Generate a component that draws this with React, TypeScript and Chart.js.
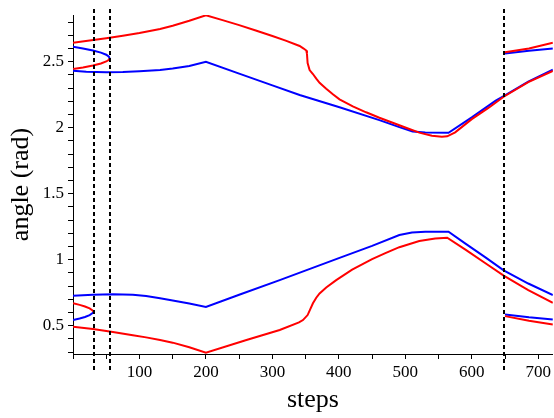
import React, { useEffect, useRef } from "react";
import { Chart, registerables } from "chart.js";

Chart.register(...registerables);

// ---- data (steps, angle in rad) ----
const upperRedX = [0, 25, 50, 75, 100, 131, 150, 175, 200, 225, 250, 275, 300, 320, 341, 347, 351, 352, 353, 356, 361, 366, 371, 381, 391, 401, 421, 441, 461, 481, 501, 521, 540, 555, 563, 575, 600, 625, 648, 685, 722];
const upperRedY = [2.644, 2.66, 2.678, 2.697, 2.718, 2.748, 2.772, 2.81, 2.852, 2.815, 2.777, 2.737, 2.695, 2.66, 2.619, 2.6, 2.585, 2.56, 2.49, 2.437, 2.407, 2.372, 2.34, 2.296, 2.254, 2.215, 2.162, 2.117, 2.076, 2.038, 2.0, 1.963, 1.94, 1.932, 1.935, 1.965, 2.065, 2.15, 2.235, 2.345, 2.43];

const upperBlueX = [0, 20, 50, 75, 100, 131, 150, 175, 200, 250, 300, 341, 401, 461, 491, 511, 530, 565, 600, 636, 648, 685, 722];
const upperBlueY = [2.432, 2.424, 2.421, 2.423, 2.428, 2.437, 2.448, 2.468, 2.5, 2.41, 2.321, 2.248, 2.155, 2.058, 2.005, 1.972, 1.963, 1.962, 2.078, 2.205, 2.24, 2.35, 2.44];

const lowerRedX = [0, 30, 60, 90, 110, 131, 150, 175, 200, 261, 311, 340, 346, 353, 361, 366, 371, 381, 396, 420, 450, 470, 491, 521, 545, 563, 591, 620, 648, 685, 722];
const lowerRedY = [0.493, 0.475, 0.453, 0.428, 0.412, 0.392, 0.372, 0.337, 0.295, 0.392, 0.468, 0.525, 0.543, 0.581, 0.67, 0.712, 0.745, 0.79, 0.846, 0.925, 1.005, 1.05, 1.095, 1.142, 1.161, 1.167, 1.075, 0.975, 0.88, 0.77, 0.674];

const lowerBlueX = [0, 30, 60, 90, 110, 131, 150, 175, 200, 250, 311, 400, 450, 491, 510, 530, 565, 591, 620, 648, 685, 722];
const lowerBlueY = [0.728, 0.735, 0.738, 0.735, 0.725, 0.708, 0.692, 0.668, 0.642, 0.735, 0.846, 1.012, 1.105, 1.187, 1.207, 1.212, 1.212, 1.12, 1.02, 0.92, 0.82, 0.733];

const upperFoldBlueX = [0, 15, 30, 42, 50, 54, 55];
const upperFoldBlueY = [2.614, 2.601, 2.585, 2.569, 2.553, 2.538, 2.526];
const upperFoldRedX = [0, 15, 30, 42, 50, 54, 55];
const upperFoldRedY = [2.445, 2.457, 2.471, 2.487, 2.502, 2.515, 2.526];

const lowerFoldRedX = [0, 10, 18, 25, 29, 31.5];
const lowerFoldRedY = [0.67, 0.658, 0.646, 0.632, 0.618, 0.606];
const lowerFoldBlueX = [0, 10, 18, 25, 29, 31.5];
const lowerFoldBlueY = [0.543, 0.555, 0.566, 0.58, 0.594, 0.606];

const rightUpperRedX = [650, 686, 722];
const rightUpperRedY = [2.571, 2.6, 2.644];
const rightUpperBlueX = [650, 686, 722];
const rightUpperBlueY = [2.563, 2.583, 2.6];
const rightLowerRedX = [650, 686, 722];
const rightLowerRedY = [0.573, 0.538, 0.51];
const rightLowerBlueX = [650, 686, 722];
const rightLowerBlueY = [0.586, 0.564, 0.548];

const markerSteps = [32, 55, 648];

const RED = "#ff0000";
const BLUE = "#0000ff";
const FONT = "'Liberation Serif', 'Times New Roman', serif";

function pts(xs: number[], ys: number[]) {
  return xs.map((x, i) => ({ x, y: ys[i] }));
}

function ds(xs: number[], ys: number[], color: string) {
  return {
    data: pts(xs, ys),
    borderColor: color,
    backgroundColor: color,
    borderWidth: 2,
    pointRadius: 0,
    tension: 0,
    fill: false,
  };
}

const dottedLines = {
  id: "dottedLines",
  afterDatasetsDraw(chart: any) {
    const { ctx, chartArea, scales } = chart;
    ctx.save();
    ctx.strokeStyle = "#000";
    ctx.lineWidth = 2;
    ctx.setLineDash([4, 3]);
    for (const v of markerSteps) {
      const px = Math.round(scales.x.getPixelForValue(v));
      ctx.beginPath();
      ctx.moveTo(px, chartArea.top - 6);
      ctx.lineTo(px, chartArea.bottom + 16);
      ctx.stroke();
    }
    ctx.restore();
  },
};

export default function App() {
  const ref = useRef<HTMLCanvasElement | null>(null);
  useEffect(() => {
    if (!ref.current) return;
    const chart = new Chart(ref.current, {
      type: "line",
      data: {
        datasets: [
          ds(upperRedX, upperRedY, RED),
          ds(upperBlueX, upperBlueY, BLUE),
          ds(lowerRedX, lowerRedY, RED),
          ds(lowerBlueX, lowerBlueY, BLUE),
          ds(upperFoldBlueX, upperFoldBlueY, BLUE),
          ds(upperFoldRedX, upperFoldRedY, RED),
          ds(lowerFoldRedX, lowerFoldRedY, RED),
          ds(lowerFoldBlueX, lowerFoldBlueY, BLUE),
          ds(rightUpperRedX, rightUpperRedY, RED),
          ds(rightUpperBlueX, rightUpperBlueY, BLUE),
          ds(rightLowerRedX, rightLowerRedY, RED),
          ds(rightLowerBlueX, rightLowerBlueY, BLUE),
        ] as any,
      },
      options: {
        responsive: false,
        animation: false,
        devicePixelRatio: 1,
        layout: { padding: { top: 15, right: 0, left: 0, bottom: 0 } },
        plugins: { legend: { display: false }, tooltip: { enabled: false } },
        scales: {
          x: {
            type: "linear",
            min: 0,
            max: 722,
            grid: { drawOnChartArea: false, drawTicks: true, tickLength: 5, color: "#000" },
            border: { display: true, color: "#000", width: 1 },
            ticks: {
              stepSize: 50,
              includeBounds: false,
              autoSkip: false,
              maxRotation: 0,
              padding: 3,
              color: "#000",
              font: { family: FONT, size: 17 },
              callback: (v: any) => {
                const n = Number(v);
                return n !== 0 && n % 100 === 0 ? String(n) : "";
              },
            },
            title: {
              display: true,
              text: "steps",
              color: "#000",
              font: { family: FONT, size: 26 },
              padding: { top: 0, bottom: 2 },
            },
            afterFit: (s: any) => {
              s.height = 64;
            },
          },
          y: {
            type: "linear",
            min: 0.286,
            max: 2.854,
            grid: { drawOnChartArea: false, drawTicks: true, tickLength: 5, color: "#000" },
            border: { display: true, color: "#000", width: 1 },
            ticks: {
              stepSize: 0.1,
              includeBounds: false,
              autoSkip: false,
              padding: 4,
              color: "#000",
              font: { family: FONT, size: 17 },
              callback: (v: any) => {
                const r = Math.round(Number(v) * 10);
                return r % 5 === 0 ? String(r / 10) : "";
              },
            },
            title: {
              display: true,
              text: "angle (rad)",
              color: "#000",
              font: { family: FONT, size: 26 },
              padding: { top: 6, bottom: 0 },
            },
            afterFit: (s: any) => {
              s.width = 73;
            },
          },
        },
      } as any,
      plugins: [dottedLines],
    });
    return () => chart.destroy();
  }, []);
  return (
    <canvas
      ref={ref}
      width={554}
      height={418}
      style={{ display: "block", position: "absolute", left: 0, top: 0, width: 554, height: 418 }}
    />
  );
}
